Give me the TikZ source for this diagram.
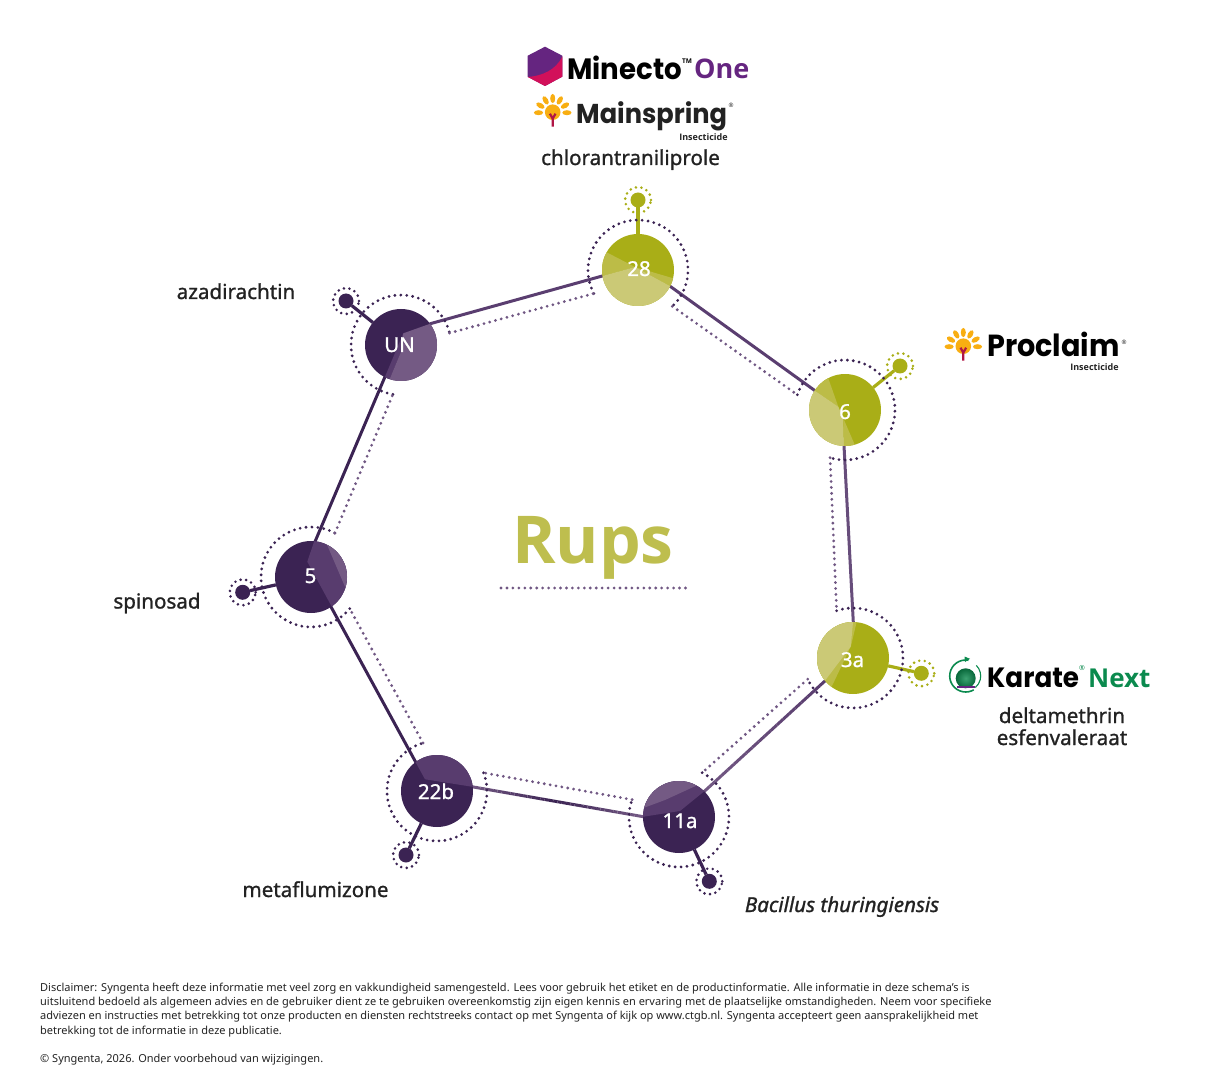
\documentclass[tikz,border=0pt]{standalone}
\usepackage{fontspec}
\usetikzlibrary{calc}
\setmainfont{Noto Sans}
\newfontfamily\midfont[FakeBold=1.1]{Noto Sans}
\newfontfamily\midital[FakeBold=1.1,ItalicFont={Noto Sans Italic}]{Noto Sans}
\newfontfamily\logofont[FakeStretch=0.94]{Poppins}
\newfontfamily\onefont{Open Sans}
\definecolor{plumdark}{HTML}{3B2353}
\definecolor{plummid}{HTML}{583C6E}
\definecolor{plumlight}{HTML}{745A84}
\definecolor{olivedark}{HTML}{A9AE17}
\definecolor{olivemid}{HTML}{BCBC47}
\definecolor{olivelight}{HTML}{CBC976}
\definecolor{rupscol}{HTML}{BEBE4E}
\definecolor{inktext}{HTML}{222222}
\definecolor{linecol}{HTML}{5A3E70}
\definecolor{dotcol}{HTML}{705783}
\definecolor{minpurple}{HTML}{652580}
\definecolor{mincrim}{HTML}{D2105A}
\definecolor{bulborange}{HTML}{F8AE12}
\definecolor{bulbstem}{HTML}{B01645}
\definecolor{kgreen}{HTML}{0B8A4E}
\pgfdeclarelayer{under}
\pgfsetlayers{under,main}
\tikzset{
  x=1pt,y=1pt,
  hubplum/.style={circle,fill=plumdark,minimum size=72pt,inner sep=0pt,outer sep=0pt},
  hubolive/.style={circle,fill=olivedark,minimum size=72pt,inner sep=0pt,outer sep=0pt},
  num/.style={text=white,anchor=base,inner sep=0pt,font=\fontsize{20.5}{24}\selectfont\midfont},
  lab/.style={text=inktext,anchor=base,inner sep=0pt,font=\fontsize{20.6}{24}\selectfont\midfont},
  fine/.style={text=inktext,anchor=base west,inner sep=0pt,font=\fontsize{11}{13}\selectfont},
  ins/.style={text=inktext,anchor=base,inner sep=0pt,font=\fontsize{9}{10}\selectfont\onefont\bfseries},
  conn/.style={line width=3pt,color=linecol,shorten <=-2pt,shorten >=-2pt},
  dotring/.style={line width=3.1pt,line cap=round,dash pattern=on 0pt off 5.95pt,color=plumdark},
  dotline/.style={line width=3.1pt,line cap=round,dash pattern=on 0pt off 5.95pt,color=dotcol},
  satplum/.style={circle,fill=plumdark,minimum size=15pt,inner sep=0pt,outer sep=0pt},
  satolive/.style={circle,fill=olivedark,minimum size=15pt,inner sep=0pt,outer sep=0pt},
  satring/.style={line width=2.9pt,line cap=round,dash pattern=on 0pt off 5.6pt},
  bulb/.pic={
    \foreach \a in {0,30,60,90,120,150,180}{
      \fill[bulborange,rotate=\a] (14.2,0) ellipse (4.6pt and 2.5pt);
    }
    \fill[bulborange] (0,0.5) circle (7.8pt);
    \draw[bulbstem,line width=2.2pt] (0,-14) -- (0,-6) (-2.8,-1) -- (0,-6) -- (2.8,-1);
  }
}
\newcommand{\gradseg}[4]{%
  \foreach \i in {0,...,19}{%
    \pgfmathtruncatemacro{\j}{\i+1}%
    \pgfmathtruncatemacro{\p}{100-\i*5}%
    \draw[line width=3pt,color=#4!\p!#3] ($(#1)!\i/20!(#2)$) -- ($(#1)!\j/20!(#2)$);
  }%
}
\newcommand{\pieclip}[1]{\clip (#1) circle (36pt);}
\begin{document}
\begin{tikzpicture}
\useasboundingbox (0,0) rectangle (1216,-1075);

% hubs
\node[hubolive] (n28) at (638,-270) {};
\node[hubolive] (n6) at (845,-410) {};
\node[hubolive] (n3a) at (853,-658) {};
\node[hubplum] (n11a) at (679,-817) {};
\node[hubplum] (n22b) at (437,-791) {};
\node[hubplum] (n5) at (311,-577) {};
\node[hubplum] (nUN) at (401,-345) {};

% connector ends (where a line meets a disc)
\coordinate (e28a) at (669.3,-285.7);
\coordinate (e6a) at (815,-390.7);
\coordinate (e6b) at (844,-445.7);
\coordinate (e3a) at (853.3,-622.3);
\coordinate (e3b) at (826,-680);
\coordinate (e11a) at (703.3,-792.3);
\coordinate (e11b) at (643.3,-816.7);
\coordinate (e22a) at (471.7,-786.7);
\coordinate (e22b) at (416,-762.7);
\coordinate (e5a) at (330,-605);
\coordinate (e5b) at (315,-541.7);
\coordinate (eUa) at (385,-376.7);
\coordinate (eUb) at (431.7,-323.3);
\coordinate (e28b) at (602.3,-276);
\coordinate (m1) at ($(e11b)!0.5!(e22a)$);

% dotted ring ends
\coordinate (r28s) at ($(n28)+(208:50pt)$);
\coordinate (r28e) at ($(n28)+(-46.6:50pt)$);
\coordinate (r6s) at ($(n6)+(162.3:50pt)$);
\coordinate (r6e) at ($(n6)+(-107.4:50pt)$);
\coordinate (r3s) at ($(n3a)+(109.1:50pt)$);
\coordinate (r3e) at ($(n3a)+(-155:50pt)$);
\coordinate (r11s) at ($(n11a)+(62.4:50pt)$);
\coordinate (r11e) at ($(n11a)+(-200.3:50pt)$);
\coordinate (r22s) at ($(n22b)+(21.4:50pt)$);
\coordinate (r22e) at ($(n22b)+(-253.7:50pt)$);
\coordinate (r5s) at ($(n5)+(-39.2:50pt)$);
\coordinate (r5e) at ($(n5)+(-298.6:50pt)$);
\coordinate (rUs) at ($(nUN)+(-99.3:50pt)$);
\coordinate (rUe) at ($(nUN)+(-346.2:50pt)$);

% satellites
\node[satolive] (s28) at (638,-200) {};
\node[satolive] (s6) at (900,-366) {};
\node[satolive] (s3a) at (921.3,-673.3) {};
\node[satplum] (s11a) at (709.3,-881.3) {};
\node[satplum] (s22b) at (406,-855) {};
\node[satplum] (s5) at (242.7,-592.3) {};
\node[satplum] (sUN) at (346,-301) {};

\begin{pgfonlayer}{under}
  \draw[conn] (e28a) -- (e6a);
  \draw[conn,color=linecol!92!white] (e6b) -- (e3a);
  \gradseg{e3b}{e11a}{plumlight}{plummid}
  \gradseg{e11b}{m1}{plumdark}{plumlight}
  \gradseg{m1}{e22a}{plumlight}{plumdark}
  \draw[conn,color=plumdark] (e22b) -- (e5a);
  \draw[conn,color=plumdark] (e5b) -- (eUa);
  \draw[conn] (eUb) -- (e28b);

  \draw[line width=3.2pt,olivedark] (s28) -- (n28);
  \draw[line width=3.2pt,olivedark] (s6) -- (n6);
  \draw[line width=3.2pt,olivedark] (s3a) -- (n3a);
  \draw[line width=3.2pt,plumdark] (s11a) -- (n11a);
  \draw[line width=3.2pt,plumdark] (s22b) -- (n22b);
  \draw[line width=3.2pt,plumdark] (s5) -- (n5);
  \draw[line width=3.2pt,plumdark] (sUN) -- (nUN);

  \draw[dotring] (r28s) arc[start angle=208,end angle=-46.6,radius=50pt];
  \draw[dotring] (r6s) arc[start angle=162.3,end angle=-107.4,radius=50pt];
  \draw[dotring] (r3s) arc[start angle=109.1,end angle=-155,radius=50pt];
  \draw[dotring] (r11s) arc[start angle=62.4,end angle=-200.3,radius=50pt];
  \draw[dotring] (r22s) arc[start angle=21.4,end angle=-253.7,radius=50pt];
  \draw[dotring] (r5s) arc[start angle=-39.2,end angle=-298.6,radius=50pt];
  \draw[dotring] (rUs) arc[start angle=-99.3,end angle=-346.2,radius=50pt];

  \draw[dotline] (r28e) -- (r6s);
  \draw[dotline] (r6e) -- (r3s);
  \draw[dotline] (r3e) -- (r11s);
  \draw[dotline] (r11e) -- (r22s);
  \draw[dotline] (r22e) -- (r5s);
  \draw[dotline] (r5e) -- (rUs);
  \draw[dotline] (rUe) -- (r28s);

  \draw[satring,olivedark] (s28) circle (13pt);
  \draw[satring,olivedark] (s6) circle (13pt);
  \draw[satring,olivedark] (s3a) circle (13pt);
  \draw[satring,plumdark] (s11a) circle (13pt);
  \draw[satring,plumdark] (s22b) circle (13pt);
  \draw[satring,plumdark] (s5) circle (13pt);
  \draw[satring,plumdark] (sUN) circle (13pt);
\end{pgfonlayer}

% wedges
\begin{scope}\pieclip{n28}
  \fill[olivemid] (635,-267) -- (592.5,-245) -- (586,-280.5) -- cycle;
  \fill[olivemid] (635,-267) -- (692.5,-284) -- (686.5,-295) -- cycle;
  \fill[olivelight] (635,-267) -- (686.5,-295) -- (700,-340) -- (570,-340) -- (586,-280.5) -- cycle;
\end{scope}
\begin{scope}\pieclip{n6}
  \fill[olivemid] (838.3,-406.7) -- (825,-369) -- (805,-384) -- cycle;
  \fill[olivelight] (838.3,-406.7) -- (805,-384) -- (790,-384) -- (790,-470) -- (844.5,-470) -- (843.3,-418.3) -- cycle;
  \fill[olivemid] (843.3,-418.3) -- (844.5,-470) -- (865.7,-470) -- cycle;
\end{scope}
\begin{scope}\pieclip{n3a}
  \fill[olivemid] (859,-612) -- (851,-646) -- (832,-686) -- (815,-705) -- (790,-650) -- (800,-612) -- cycle;
  \fill[olivelight] (854,-612) -- (850.7,-646.7) -- (824,-682) -- (800,-705) -- (790,-650) -- (800,-612) -- cycle;
\end{scope}
\begin{scope}\pieclip{n11a}
  \fill[plummid] (630,-818.8) -- (680,-811) -- (712,-785) -- (712,-770) -- (630,-770) -- cycle;
  \fill[plumlight] (630,-813) -- (665,-800) -- (700,-784) -- (700,-770) -- (630,-770) -- cycle;
\end{scope}
\begin{scope}\pieclip{n22b}
  \fill[plummid] (425,-779.3) -- (410,-752) -- (480,-745) -- (480,-788) -- cycle;
\end{scope}
\begin{scope}\pieclip{n5}
  \fill[plummid] (307.3,-561.7) -- (317,-533) -- (355,-533) -- (355,-620) -- (339,-620) -- cycle;
  \fill[plumlight] (326.7,-544) -- (320,-528) -- (355,-528) -- (355,-610) -- cycle;
\end{scope}
\begin{scope}\pieclip{nUN}
  \fill[plummid] (403.3,-333.3) -- (379,-391) -- (381,-400) -- (401.7,-350) -- cycle;
  \fill[plumlight] (403.3,-333.3) -- (450,-316.7) -- (450,-400) -- (381,-400) -- (401.7,-350) -- cycle;
\end{scope}

% disc numbers
\node[num] (t28) at (639,-276) {28};
\node[num] (t6) at (845,-419) {6};
\node[num] (t3a) at (852.5,-667) {3a};
\node[num] (t11a) at (680,-828) {11a};
\node[num] (t22b) at (436,-799) {22b};
\node[num] (t5) at (310.5,-583) {5};
\node[num] (tUN) at (399.5,-352) {UN};

% central title
\node[anchor=base,inner sep=0pt,text=rupscol,font=\fontsize{66}{70}\selectfont\onefont\bfseries] (rups) at (593,-563) {Rups};
\coordinate (ru1) at (501,-588);
\coordinate (ru2) at (686,-588);
\draw[dotline] (ru1) -- (ru2);

% labels
\node[lab] (chl) at (630.5,-165) {chlorantraniliprole};
\node[lab] (aza) at (236,-299) {azadirachtin};
\node[lab] (spi) at (157,-608.5) {spinosad};
\node[lab] (met) at (315.5,-897) {metaflumizone};
\node[lab,font=\fontsize{20.6}{24}\selectfont\midital\itshape] (bac) at (842,-912) {Bacillus thuringiensis};
\node[lab] (del) at (1062,-723) {deltamethrin};
\node[lab] (esf) at (1062,-745) {esfenvaleraat};

% Minecto One logo
\fill[minpurple] (545,-46.7) -- (562.3,-55.7) -- (562.3,-76.7) -- (545,-86) -- (527.7,-76.7) -- (527.7,-55.7) -- cycle;
\fill[mincrim] (562.3,-56.5) .. controls (556,-70) and (542,-76) .. (527.7,-77) -- (545,-86) -- (562.3,-76.7) -- cycle;
\node[anchor=base west,inner sep=0pt,font=\fontsize{29.4}{32}\selectfont\logofont\bfseries] (minecto) at (567,-79.5) {Minecto};
\node[anchor=base west,inner sep=0pt,font=\fontsize{6.5}{7}\selectfont\onefont\bfseries] (mintm) at (682,-64) {TM};
\node[anchor=base west,inner sep=0pt,text=minpurple,font=\fontsize{27}{32}\selectfont\onefont\bfseries] (one) at (694,-79) {One};

% Mainspring logo
\pic at (552.7,-112.7) {bulb};
\node[anchor=base west,inner sep=0pt,text=inktext,font=\fontsize{27.3}{32}\selectfont\logofont\bfseries] (mains) at (576,-123.5) {Mainspring};
\node[anchor=center,inner sep=0pt,font=\fontsize{6}{7}\selectfont,text=inktext] (mainsr) at (731,-105) {®};
\node[ins] (mainsi) at (703.5,-140.5) {Insecticide};

% Proclaim logo
\pic at (963.3,-346.7) {bulb};
\node[anchor=base west,inner sep=0pt,text=black,font=\fontsize{30.5}{35}\selectfont\logofont\bfseries] (proc) at (987,-356) {Proclaim};
\node[anchor=center,inner sep=0pt,font=\fontsize{6}{7}\selectfont,text=inktext] (procr) at (1124,-342) {®};
\node[ins] (proci) at (1094.5,-370.5) {Insecticide};

% Karate Next logo
\coordinate (kc) at (965.7,-676);
\coordinate (kb) at (965.7,-678.3);
\shade[inner color=kgreen!80!white,outer color=kgreen!75!black] (kb) circle (10pt);
\fill[minpurple] (957,-685.5) rectangle (975,-687.5);
\draw[kgreen,line width=1.6pt] ($(kc)+(80:16pt)$) arc[start angle=80,end angle=300,radius=16pt];
\draw[kgreen,line width=1.1pt] ($(kc)+(45:15pt)$) arc[start angle=45,end angle=-50,radius=15pt];
\fill[kgreen] (970,-658.8) -- (964.5,-656.5) -- (965,-662) -- cycle;
\node[anchor=base west,inner sep=0pt,text=black,font=\fontsize{27.9}{32}\selectfont\logofont\bfseries] (kar) at (987,-687) {Karate};
\node[anchor=center,inner sep=0pt,font=\fontsize{7}{8}\selectfont,text=kgreen] (karr) at (1082,-668) {®};
\node[anchor=base west,inner sep=0pt,text=kgreen,font=\fontsize{26}{32}\selectfont\onefont\bfseries] (next) at (1088,-687) {Next};

% disclaimer
\node[fine] (d1) at (40,-991) {Disclaimer: Syngenta heeft deze informatie met veel zorg en vakkundigheid samengesteld. Lees voor gebruik het etiket en de productinformatie. Alle informatie in deze schema's is};
\node[fine] (d2) at (40,-1005.5) {uitsluitend bedoeld als algemeen advies en de gebruiker dient ze te gebruiken overeenkomstig zijn eigen kennis en ervaring met de plaatselijke omstandigheden. Neem voor specifieke};
\node[fine] (d3) at (40,-1019.7) {adviezen en instructies met betrekking tot onze producten en diensten rechtstreeks contact op met Syngenta of kijk op www.ctgb.nl. Syngenta accepteert geen aansprakelijkheid met};
\node[fine] (d4) at (40,-1034) {betrekking tot de informatie in deze publicatie.};
\node[fine] (d5) at (40,-1062) {© Syngenta, 2026. Onder voorbehoud van wijzigingen.};
\end{tikzpicture}
\end{document}
